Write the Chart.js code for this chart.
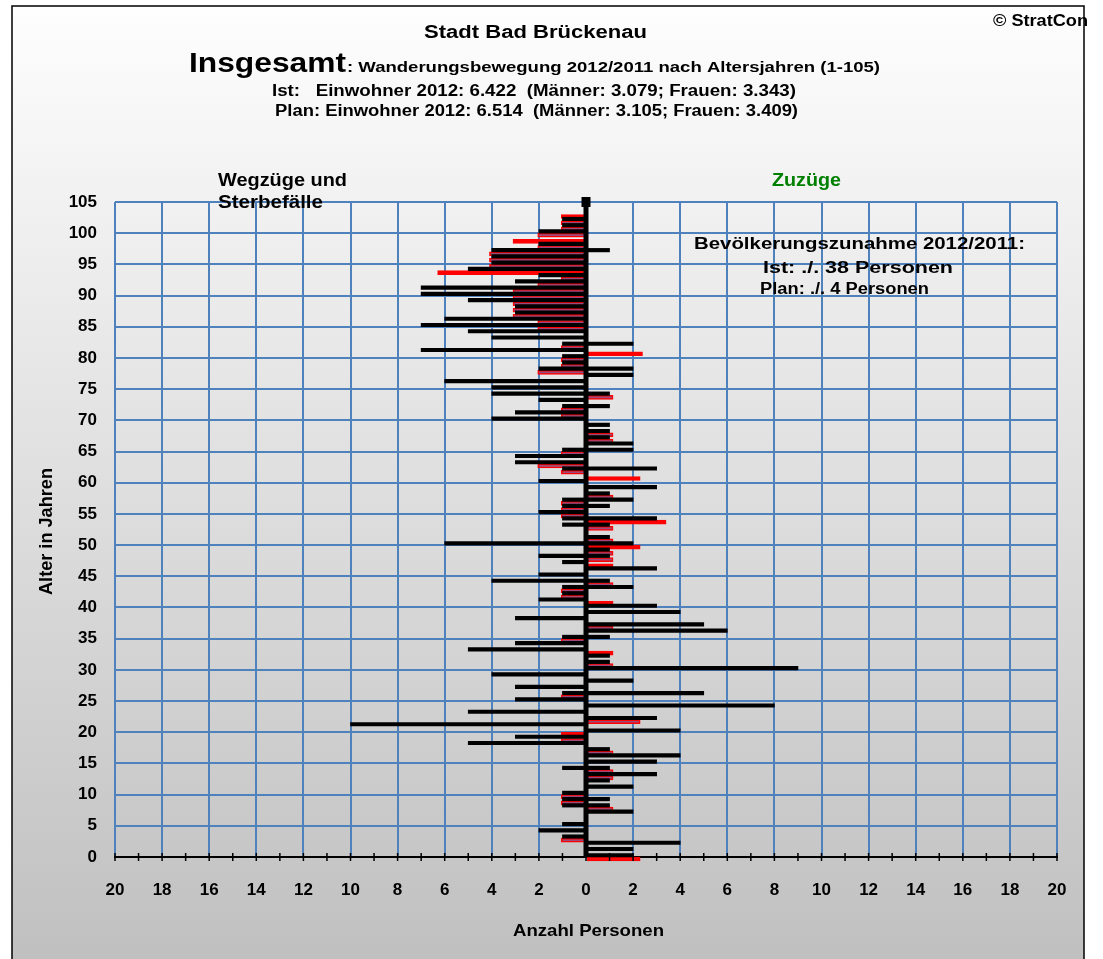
<!DOCTYPE html>
<html>
<head>
<meta charset="utf-8">
<title>Stadt Bad Brückenau – Wanderungsbewegung</title>
<script src="https://cdn.jsdelivr.net/npm/chart.js@4"></script>
<style>
    html, body { margin: 0; padding: 0; background: #ffffff; }
    #wrap { width: 1103px; height: 959px; }
</style>
</head>
<body>
<div id="wrap"><canvas id="wanderungChart" width="1103" height="959"></canvas></div>
<script>
// Altersjahre 0..105 (Kategorien der y-Achse)
const alter = [];
for (let a = 0; a <= 105; a++) alter.push(String(a));

// Ist: Wegzüge und Sterbefälle je Altersjahr (Index = Alter)
const istWegzuege = [
    0, 0, 0, 1, 2, 1, 0, 0, 1, 1,      // 0-9
    1, 0, 0, 0, 1, 0, 0, 0, 5, 3,      // 10-19
    0, 10, 0, 5, 0, 3, 1, 3, 0, 4,     // 20-29
    0, 0, 0, 5, 3, 1, 0, 0, 3, 0,      // 30-39
    0, 2, 1, 1, 4, 2, 0, 1, 2, 0,      // 40-49
    6, 0, 0, 1, 1, 2, 1, 1, 0, 0,      // 50-59
    2, 0, 1, 3, 3, 1, 0, 0, 0, 0,      // 60-69
    4, 3, 1, 2, 4, 4, 6, 0, 2, 1,      // 70-79
    1, 7, 1, 4, 5, 7, 6, 3, 3, 5,      // 80-89
    7, 7, 3, 2, 5, 4, 4, 4, 2, 0,      // 90-99
    2, 1, 1, 0, 0, 0                   // 100-105
];

// Ist: Zuzüge je Altersjahr
const istZuzuege = [
    2, 2, 4, 0, 0, 0, 0, 2, 1, 1,
    0, 2, 1, 3, 1, 3, 4, 1, 0, 0,
    4, 0, 3, 0, 8, 0, 5, 0, 2, 0,
    9, 1, 1, 0, 0, 1, 6, 5, 0, 4,
    3, 0, 0, 2, 1, 0, 3, 0, 1, 1,
    2, 1, 0, 1, 3, 0, 1, 2, 1, 3,
    0, 0, 3, 0, 0, 2, 2, 1, 1, 1,
    0, 0, 1, 0, 1, 0, 0, 2, 2, 0,
    0, 0, 2, 0, 0, 0, 0, 0, 0, 0,
    0, 0, 0, 0, 0, 0, 0, 1, 0, 0,
    0, 0, 0, 0, 0, 0
];

// Plan: Wegzüge und Sterbefälle je Altersjahr
const planWegzuege = [
    0, 0, 0, 1.05, 0, 0, 0, 0, 0, 1.05,
    1.05, 0, 0, 0, 0, 0, 0, 0, 0, 1.05,
    1.05, 0, 0, 0, 0, 0, 1.05, 0, 0, 0,
    0, 0, 0, 0, 0, 1.05, 0, 0, 0, 0,
    0, 0, 1.05, 1.05, 0, 0, 0, 0, 0, 0,
    0, 0, 0, 0, 0, 1.05, 1.05, 1.05, 0, 0,
    0, 0, 1.05, 2.05, 0, 1.05, 0, 0, 0, 0,
    0, 1.05, 1.05, 0, 0, 0, 0, 0, 2.05, 1.05,
    1.05, 0, 1.05, 0, 0, 2.05, 2.05, 3.1, 3.1, 3.1,
    3.1, 3.1, 2.05, 1.05, 6.3, 4.1, 4.1, 4.1, 2.05, 3.1,
    2.05, 1.05, 1.05, 1.05, 0, 0
];

// Plan: Zuzüge je Altersjahr
const planZuzuege = [
    2.3, 0, 0, 0, 0, 0, 0, 0, 1.15, 0,
    0, 0, 0, 1.15, 1.15, 0, 0, 1.15, 0, 0,
    0, 0, 2.3, 0, 0, 0, 0, 0, 0, 0,
    0, 1.15, 0, 1.15, 0, 0, 0, 1.15, 0, 0,
    0, 1.15, 0, 0, 1.15, 0, 0, 1.15, 1.15, 1.15,
    2.3, 1.15, 0, 1.15, 3.4, 0, 0, 0, 1.15, 0,
    0, 2.3, 0, 0, 0, 0, 0, 1.15, 1.15, 0,
    0, 0, 0, 0, 1.15, 0, 0, 0, 0, 0,
    0, 2.4, 0, 0, 0, 0, 0, 0, 0, 0,
    0, 0, 0, 0, 0, 0, 0, 0, 0, 0,
    0, 0, 0, 0, 0, 0
];

const xTicks = [-20, -18, -16, -14, -12, -10, -8, -6, -4, -2, 0, 2, 4, 6, 8, 10, 12, 14, 16, 18, 20];

const BLAU = "#4f81bd";
const LEER = "rgba(0,0,0,0)";
const SCHRIFT = '"Liberation Sans", Arial, sans-serif';

// Texte (Text, links, Grundlinie, Größe, Breite, Farbe)
const texte = [
    ["Stadt Bad Brückenau", 424, 38, 18, 223, "#000"],
    ["Insgesamt", 189, 72, 28, 157, "#000"],
    [": Wanderungsbewegung 2012/2011 nach Altersjahren (1-105)", 347, 72, 15, 533, "#000"],
    ["Ist:   Einwohner 2012: 6.422  (Männer: 3.079; Frauen: 3.343)", 272, 96, 16, 524, "#000"],
    ["Plan: Einwohner 2012: 6.514  (Männer: 3.105; Frauen: 3.409)", 275, 116, 16, 523, "#000"],
    ["© StratCon", 993, 26, 16, 95, "#000"],
    ["Wegzüge und", 218, 186, 19, 129, "#000"],
    ["Sterbefälle", 218, 208, 19, 105, "#000"],
    ["Zuzüge", 772, 186, 19, 69, "#008000"],
    ["Bevölkerungszunahme 2012/2011:", 694, 249, 16, 331, "#000"],
    ["Ist: ./. 38 Personen", 763, 273, 16, 190, "#000"],
    ["Plan: ./. 4 Personen", 760, 294, 16, 169, "#000"],
    ["Anzahl Personen", 513, 936, 17, 151, "#000"]
];

function schreibe(c, str, x, y, size, breite, farbe, winkel) {
    c.save();
    c.font = "bold " + size + "px " + SCHRIFT;
    const w = c.measureText(str).width;
    c.translate(x, y);
    if (winkel) c.rotate(winkel);
    c.scale(breite / w, 1);
    c.fillStyle = farbe;
    c.textAlign = "left";
    c.textBaseline = "alphabetic";
    c.fillText(str, 0, 0);
    c.restore();
}

const hintergrund = {
    id: "hintergrund",
    beforeDraw(chart) {
        const c = chart.ctx;
        c.save();
        c.fillStyle = "#ffffff";
        c.fillRect(0, 0, chart.width, chart.height);
        const g = c.createLinearGradient(0, 6, 0, 959);
        g.addColorStop(0, "#fefefe");
        g.addColorStop(1, "#c0c0c0");
        c.fillStyle = g;
        c.fillRect(12, 6, 1072, 960);
        c.strokeStyle = "#000";
        c.lineWidth = 1.5;
        c.strokeRect(12, 6, 1072, 960);
        c.restore();
    }
};

const nulllinie = {
    id: "nulllinie",
    afterDatasetsDraw(chart) {
        const c = chart.ctx;
        const xs = chart.scales.x;
        const ys = chart.scales.y;
        const x0 = xs.getPixelForValue(0);
        const yOben = ys.getPixelForValue(105);
        const yUnten = ys.getPixelForValue(0);
        c.save();
        c.fillStyle = "#000";
        c.fillRect(x0 - 2.5, yOben, 5, yUnten - yOben);
        c.fillRect(x0 - 4.5, yOben - 5, 9, 10);
        // kleine Teilstriche auf der x-Achse
        c.strokeStyle = "#000";
        c.lineWidth = 1.5;
        c.beginPath();
        for (let v = -20; v <= 20; v++) {
            const x = xs.getPixelForValue(v);
            c.moveTo(x, yUnten - 4);
            c.lineTo(x, yUnten + 4);
        }
        c.stroke();
        c.restore();
    },
    afterDraw(chart) {
        const c = chart.ctx;
        texte.forEach(t => schreibe(c, t[0], t[1], t[2], t[3], t[4], t[5]));
        schreibe(c, "Alter in Jahren", 52, 595, 18, 127, "#000", -Math.PI / 2);
    }
};

// Plan-Balken: dunkel gefüllt, wo der Ist-Balken mindestens gleich lang ist
function rotFuellung(ist, plan) {
    return function (ctx) {
        const i = ctx.dataIndex;
        return ist[i] >= plan[i] - 0.2 ? "#9a4a7a" : "#ff0000";
    };
}

const ctx = document.getElementById("wanderungChart").getContext("2d");

new Chart(ctx, {
    type: "bar",
    data: {
        labels: alter,
        datasets: [
            {
                label: "Ist Wegzüge",
                data: istWegzuege.map(v => v ? -v : null),
                stack: "ist",
                backgroundColor: "#000000",
                barThickness: 3.5,
                clip: false
            },
            {
                label: "Ist Zuzüge",
                data: istZuzuege.map(v => v ? v : null),
                stack: "ist",
                backgroundColor: "#000000",
                barThickness: 3.5,
                clip: false
            },
            {
                label: "Plan Wegzüge",
                data: planWegzuege.map(v => v ? -v : null),
                stack: "plan",
                backgroundColor: rotFuellung(istWegzuege, planWegzuege),
                borderColor: "#ff0000",
                borderWidth: 1.5,
                barThickness: 4,
                clip: false
            },
            {
                label: "Plan Zuzüge",
                data: planZuzuege.map(v => v ? v : null),
                stack: "plan",
                backgroundColor: rotFuellung(istZuzuege, planZuzuege),
                borderColor: "#ff0000",
                borderWidth: 1.5,
                barThickness: 4,
                clip: false
            }
        ]
    },
    options: {
        responsive: false,
        animation: false,
        indexAxis: "y",
        layout: {
            padding: { top: 202, right: 46, left: 0, bottom: 0 }
        },
        plugins: {
            legend: { display: false },
            tooltip: { enabled: false }
        },
        scales: {
            x: {
                stacked: true,
                min: -20,
                max: 20,
                afterFit(s) { s.height = 102; },
                ticks: {
                    stepSize: 1,
                    autoSkip: false,
                    maxRotation: 0,
                    padding: 23,
                    color: "#000",
                    font: { family: SCHRIFT, size: 17, weight: "bold" },
                    callback: v => (xTicks.includes(v) ? String(Math.abs(v)) : "")
                },
                grid: {
                    color: c => (c.tick && xTicks.includes(c.tick.value) ? BLAU : LEER),
                    lineWidth: 2,
                    drawTicks: false
                },
                border: { color: "#000", width: 2 }
            },
            y: {
                reverse: true,
                offset: false,
                afterFit(s) { s.width = 115; },
                ticks: {
                    autoSkip: false,
                    padding: 18,
                    color: "#000",
                    font: { family: SCHRIFT, size: 17, weight: "bold" },
                    callback: v => (v % 5 === 0 ? alter[v] : "")
                },
                grid: {
                    offset: false,
                    color: c => (c.tick && c.tick.value % 5 === 0 ? BLAU : LEER),
                    lineWidth: 2,
                    drawTicks: false
                },
                border: { display: false }
            }
        }
    },
    plugins: [hintergrund, nulllinie]
});
</script>
</body>
</html>
